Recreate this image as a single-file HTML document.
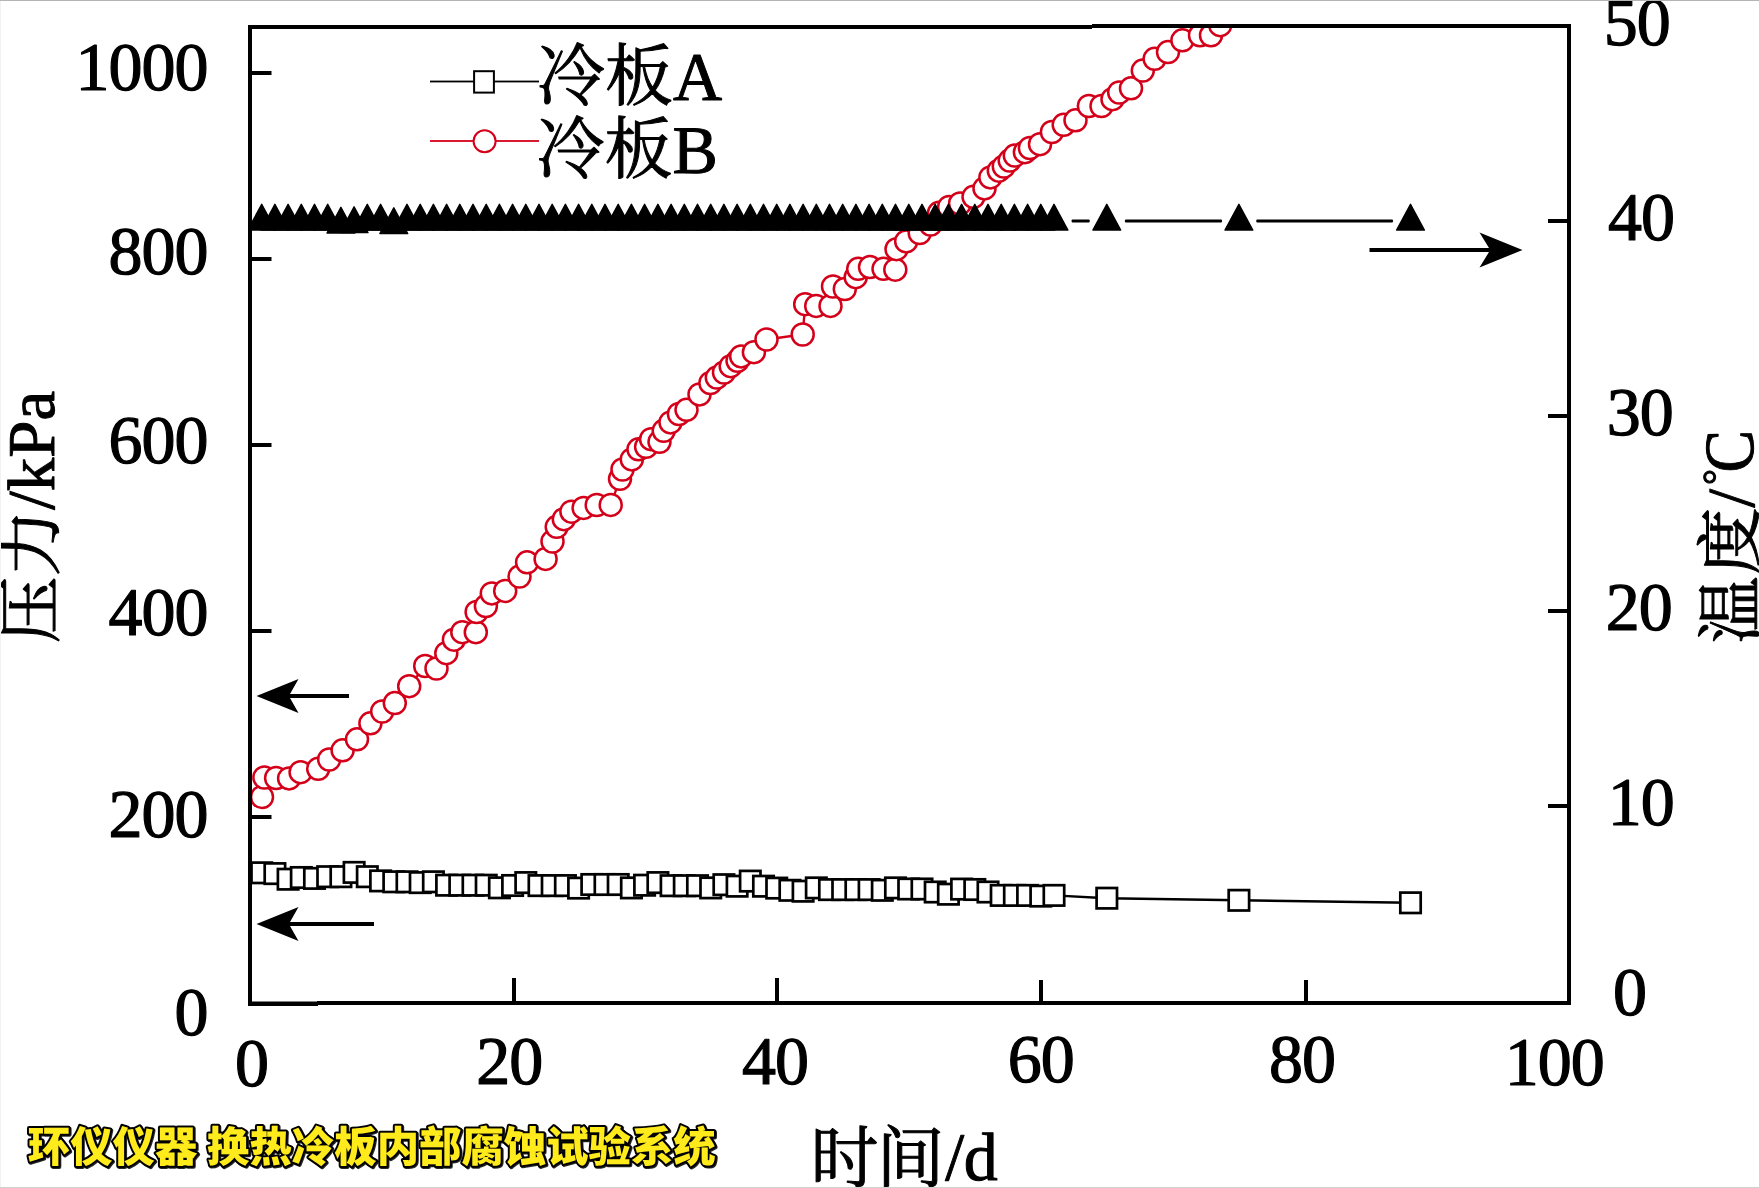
<!DOCTYPE html>
<html lang="zh">
<head>
<meta charset="utf-8">
<title>冷板压力与温度随时间变化</title>
<style>
html,body{margin:0;padding:0;background:#fff;}
body{width:1759px;height:1188px;overflow:hidden;position:relative;}
svg{display:block;position:absolute;left:0;top:0;}
text{text-rendering:geometricPrecision;}
.num{font-family:"Liberation Serif","Noto Serif CJK SC",serif;font-size:68px;fill:#000;}
.ttl{font-family:"Liberation Serif","Noto Serif CJK SC",serif;font-size:67px;fill:#000;}
.wm{font-family:"Noto Sans CJK SC","WenQuanYi Zen Hei","Liberation Sans",sans-serif;font-weight:900;font-size:42.4px;}
</style>
</head>
<body>
<svg width="1759" height="1188" viewBox="0 0 1759 1188">
<defs>
<clipPath id="plot"><rect x="250" y="27" width="1319" height="976"/></clipPath>
<filter id="sh" x="-2%" y="-20%" width="104%" height="140%"><feOffset in="SourceAlpha" dx="1.1" dy="1.1" result="o"/><feComponentTransfer in="o" result="s"><feFuncA type="linear" slope="0.85"/></feComponentTransfer><feMerge><feMergeNode in="s"/><feMergeNode in="SourceGraphic"/></feMerge></filter>
</defs>
<rect x="0" y="0" width="1759" height="1188" fill="#ffffff"/>

<g clip-path="url(#plot)">
<polyline points="262.0,797.0 264.4,777.5 276.1,778.0 289.1,778.4 300.6,772.2 318.2,768.8 329.2,759.5 342.6,750.3 357.0,739.3 370.4,723.3 382.2,711.5 394.8,703.1 409.2,686.2 425.2,666.0 436.5,668.5 446.3,653.2 453.9,639.7 462.3,632.2 475.8,632.2 476.6,612.0 485.9,606.1 491.8,593.4 505.2,590.9 519.5,576.6 527.1,562.3 545.6,558.9 552.5,541.5 556.7,526.8 563.8,519.2 571.4,511.7 583.6,507.9 596.7,505.0 610.7,504.9 620.0,478.8 622.5,469.5 631.8,459.4 638.5,449.3 646.1,446.8 651.1,439.2 659.5,441.8 663.7,430.8 670.5,422.4 678.9,414.0 686.5,409.8 699.5,394.4 710.4,383.0 716.8,377.6 724.0,372.5 730.7,366.2 737.5,360.8 741.2,356.4 753.9,352.2 766.5,339.5 802.7,334.5 805.2,304.2 816.2,305.9 830.5,305.9 833.0,286.5 844.8,289.0 855.7,277.2 858.2,268.8 870.0,267.1 883.5,268.8 895.3,269.7 896.5,249.2 906.2,241.4 919.7,233.0 930.6,224.6 939.0,212.8 949.1,206.9 960.1,203.5 973.5,196.8 984.5,188.4 990.4,177.4 998.8,170.7 1003.8,166.5 1009.7,160.6 1014.8,155.6 1024.9,152.2 1029.9,148.0 1040.0,144.2 1051.9,132.0 1063.7,124.8 1075.5,120.3 1088.9,106.0 1101.5,106.0 1112.5,99.2 1119.2,92.5 1131.0,88.3 1142.8,70.6 1154.6,58.8 1168.0,52.1 1182.4,40.3 1200.0,35.3 1211.0,35.3 1220.2,25.2" fill="none" stroke="#d4001a" stroke-width="2.4"/>
<circle cx="262.0" cy="797.0" r="11" fill="#fff" stroke="#d4001a" stroke-width="2.5"/>
<circle cx="264.4" cy="777.5" r="11" fill="#fff" stroke="#d4001a" stroke-width="2.5"/>
<circle cx="276.1" cy="778.0" r="11" fill="#fff" stroke="#d4001a" stroke-width="2.5"/>
<circle cx="289.1" cy="778.4" r="11" fill="#fff" stroke="#d4001a" stroke-width="2.5"/>
<circle cx="300.6" cy="772.2" r="11" fill="#fff" stroke="#d4001a" stroke-width="2.5"/>
<circle cx="318.2" cy="768.8" r="11" fill="#fff" stroke="#d4001a" stroke-width="2.5"/>
<circle cx="329.2" cy="759.5" r="11" fill="#fff" stroke="#d4001a" stroke-width="2.5"/>
<circle cx="342.6" cy="750.3" r="11" fill="#fff" stroke="#d4001a" stroke-width="2.5"/>
<circle cx="357.0" cy="739.3" r="11" fill="#fff" stroke="#d4001a" stroke-width="2.5"/>
<circle cx="370.4" cy="723.3" r="11" fill="#fff" stroke="#d4001a" stroke-width="2.5"/>
<circle cx="382.2" cy="711.5" r="11" fill="#fff" stroke="#d4001a" stroke-width="2.5"/>
<circle cx="394.8" cy="703.1" r="11" fill="#fff" stroke="#d4001a" stroke-width="2.5"/>
<circle cx="409.2" cy="686.2" r="11" fill="#fff" stroke="#d4001a" stroke-width="2.5"/>
<circle cx="425.2" cy="666.0" r="11" fill="#fff" stroke="#d4001a" stroke-width="2.5"/>
<circle cx="436.5" cy="668.5" r="11" fill="#fff" stroke="#d4001a" stroke-width="2.5"/>
<circle cx="446.3" cy="653.2" r="11" fill="#fff" stroke="#d4001a" stroke-width="2.5"/>
<circle cx="453.9" cy="639.7" r="11" fill="#fff" stroke="#d4001a" stroke-width="2.5"/>
<circle cx="462.3" cy="632.2" r="11" fill="#fff" stroke="#d4001a" stroke-width="2.5"/>
<circle cx="475.8" cy="632.2" r="11" fill="#fff" stroke="#d4001a" stroke-width="2.5"/>
<circle cx="476.6" cy="612.0" r="11" fill="#fff" stroke="#d4001a" stroke-width="2.5"/>
<circle cx="485.9" cy="606.1" r="11" fill="#fff" stroke="#d4001a" stroke-width="2.5"/>
<circle cx="491.8" cy="593.4" r="11" fill="#fff" stroke="#d4001a" stroke-width="2.5"/>
<circle cx="505.2" cy="590.9" r="11" fill="#fff" stroke="#d4001a" stroke-width="2.5"/>
<circle cx="519.5" cy="576.6" r="11" fill="#fff" stroke="#d4001a" stroke-width="2.5"/>
<circle cx="527.1" cy="562.3" r="11" fill="#fff" stroke="#d4001a" stroke-width="2.5"/>
<circle cx="545.6" cy="558.9" r="11" fill="#fff" stroke="#d4001a" stroke-width="2.5"/>
<circle cx="552.5" cy="541.5" r="11" fill="#fff" stroke="#d4001a" stroke-width="2.5"/>
<circle cx="556.7" cy="526.8" r="11" fill="#fff" stroke="#d4001a" stroke-width="2.5"/>
<circle cx="563.8" cy="519.2" r="11" fill="#fff" stroke="#d4001a" stroke-width="2.5"/>
<circle cx="571.4" cy="511.7" r="11" fill="#fff" stroke="#d4001a" stroke-width="2.5"/>
<circle cx="583.6" cy="507.9" r="11" fill="#fff" stroke="#d4001a" stroke-width="2.5"/>
<circle cx="596.7" cy="505.0" r="11" fill="#fff" stroke="#d4001a" stroke-width="2.5"/>
<circle cx="610.7" cy="504.9" r="11" fill="#fff" stroke="#d4001a" stroke-width="2.5"/>
<circle cx="620.0" cy="478.8" r="11" fill="#fff" stroke="#d4001a" stroke-width="2.5"/>
<circle cx="622.5" cy="469.5" r="11" fill="#fff" stroke="#d4001a" stroke-width="2.5"/>
<circle cx="631.8" cy="459.4" r="11" fill="#fff" stroke="#d4001a" stroke-width="2.5"/>
<circle cx="638.5" cy="449.3" r="11" fill="#fff" stroke="#d4001a" stroke-width="2.5"/>
<circle cx="646.1" cy="446.8" r="11" fill="#fff" stroke="#d4001a" stroke-width="2.5"/>
<circle cx="651.1" cy="439.2" r="11" fill="#fff" stroke="#d4001a" stroke-width="2.5"/>
<circle cx="659.5" cy="441.8" r="11" fill="#fff" stroke="#d4001a" stroke-width="2.5"/>
<circle cx="663.7" cy="430.8" r="11" fill="#fff" stroke="#d4001a" stroke-width="2.5"/>
<circle cx="670.5" cy="422.4" r="11" fill="#fff" stroke="#d4001a" stroke-width="2.5"/>
<circle cx="678.9" cy="414.0" r="11" fill="#fff" stroke="#d4001a" stroke-width="2.5"/>
<circle cx="686.5" cy="409.8" r="11" fill="#fff" stroke="#d4001a" stroke-width="2.5"/>
<circle cx="699.5" cy="394.4" r="11" fill="#fff" stroke="#d4001a" stroke-width="2.5"/>
<circle cx="710.4" cy="383.0" r="11" fill="#fff" stroke="#d4001a" stroke-width="2.5"/>
<circle cx="716.8" cy="377.6" r="11" fill="#fff" stroke="#d4001a" stroke-width="2.5"/>
<circle cx="724.0" cy="372.5" r="11" fill="#fff" stroke="#d4001a" stroke-width="2.5"/>
<circle cx="730.7" cy="366.2" r="11" fill="#fff" stroke="#d4001a" stroke-width="2.5"/>
<circle cx="737.5" cy="360.8" r="11" fill="#fff" stroke="#d4001a" stroke-width="2.5"/>
<circle cx="741.2" cy="356.4" r="11" fill="#fff" stroke="#d4001a" stroke-width="2.5"/>
<circle cx="753.9" cy="352.2" r="11" fill="#fff" stroke="#d4001a" stroke-width="2.5"/>
<circle cx="766.5" cy="339.5" r="11" fill="#fff" stroke="#d4001a" stroke-width="2.5"/>
<circle cx="802.7" cy="334.5" r="11" fill="#fff" stroke="#d4001a" stroke-width="2.5"/>
<circle cx="805.2" cy="304.2" r="11" fill="#fff" stroke="#d4001a" stroke-width="2.5"/>
<circle cx="816.2" cy="305.9" r="11" fill="#fff" stroke="#d4001a" stroke-width="2.5"/>
<circle cx="830.5" cy="305.9" r="11" fill="#fff" stroke="#d4001a" stroke-width="2.5"/>
<circle cx="833.0" cy="286.5" r="11" fill="#fff" stroke="#d4001a" stroke-width="2.5"/>
<circle cx="844.8" cy="289.0" r="11" fill="#fff" stroke="#d4001a" stroke-width="2.5"/>
<circle cx="855.7" cy="277.2" r="11" fill="#fff" stroke="#d4001a" stroke-width="2.5"/>
<circle cx="858.2" cy="268.8" r="11" fill="#fff" stroke="#d4001a" stroke-width="2.5"/>
<circle cx="870.0" cy="267.1" r="11" fill="#fff" stroke="#d4001a" stroke-width="2.5"/>
<circle cx="883.5" cy="268.8" r="11" fill="#fff" stroke="#d4001a" stroke-width="2.5"/>
<circle cx="895.3" cy="269.7" r="11" fill="#fff" stroke="#d4001a" stroke-width="2.5"/>
<circle cx="896.5" cy="249.2" r="11" fill="#fff" stroke="#d4001a" stroke-width="2.5"/>
<circle cx="906.2" cy="241.4" r="11" fill="#fff" stroke="#d4001a" stroke-width="2.5"/>
<circle cx="919.7" cy="233.0" r="11" fill="#fff" stroke="#d4001a" stroke-width="2.5"/>
<circle cx="930.6" cy="224.6" r="11" fill="#fff" stroke="#d4001a" stroke-width="2.5"/>
<circle cx="939.0" cy="212.8" r="11" fill="#fff" stroke="#d4001a" stroke-width="2.5"/>
<circle cx="949.1" cy="206.9" r="11" fill="#fff" stroke="#d4001a" stroke-width="2.5"/>
<circle cx="960.1" cy="203.5" r="11" fill="#fff" stroke="#d4001a" stroke-width="2.5"/>
<circle cx="973.5" cy="196.8" r="11" fill="#fff" stroke="#d4001a" stroke-width="2.5"/>
<circle cx="984.5" cy="188.4" r="11" fill="#fff" stroke="#d4001a" stroke-width="2.5"/>
<circle cx="990.4" cy="177.4" r="11" fill="#fff" stroke="#d4001a" stroke-width="2.5"/>
<circle cx="998.8" cy="170.7" r="11" fill="#fff" stroke="#d4001a" stroke-width="2.5"/>
<circle cx="1003.8" cy="166.5" r="11" fill="#fff" stroke="#d4001a" stroke-width="2.5"/>
<circle cx="1009.7" cy="160.6" r="11" fill="#fff" stroke="#d4001a" stroke-width="2.5"/>
<circle cx="1014.8" cy="155.6" r="11" fill="#fff" stroke="#d4001a" stroke-width="2.5"/>
<circle cx="1024.9" cy="152.2" r="11" fill="#fff" stroke="#d4001a" stroke-width="2.5"/>
<circle cx="1029.9" cy="148.0" r="11" fill="#fff" stroke="#d4001a" stroke-width="2.5"/>
<circle cx="1040.0" cy="144.2" r="11" fill="#fff" stroke="#d4001a" stroke-width="2.5"/>
<circle cx="1051.9" cy="132.0" r="11" fill="#fff" stroke="#d4001a" stroke-width="2.5"/>
<circle cx="1063.7" cy="124.8" r="11" fill="#fff" stroke="#d4001a" stroke-width="2.5"/>
<circle cx="1075.5" cy="120.3" r="11" fill="#fff" stroke="#d4001a" stroke-width="2.5"/>
<circle cx="1088.9" cy="106.0" r="11" fill="#fff" stroke="#d4001a" stroke-width="2.5"/>
<circle cx="1101.5" cy="106.0" r="11" fill="#fff" stroke="#d4001a" stroke-width="2.5"/>
<circle cx="1112.5" cy="99.2" r="11" fill="#fff" stroke="#d4001a" stroke-width="2.5"/>
<circle cx="1119.2" cy="92.5" r="11" fill="#fff" stroke="#d4001a" stroke-width="2.5"/>
<circle cx="1131.0" cy="88.3" r="11" fill="#fff" stroke="#d4001a" stroke-width="2.5"/>
<circle cx="1142.8" cy="70.6" r="11" fill="#fff" stroke="#d4001a" stroke-width="2.5"/>
<circle cx="1154.6" cy="58.8" r="11" fill="#fff" stroke="#d4001a" stroke-width="2.5"/>
<circle cx="1168.0" cy="52.1" r="11" fill="#fff" stroke="#d4001a" stroke-width="2.5"/>
<circle cx="1182.4" cy="40.3" r="11" fill="#fff" stroke="#d4001a" stroke-width="2.5"/>
<circle cx="1200.0" cy="35.3" r="11" fill="#fff" stroke="#d4001a" stroke-width="2.5"/>
<circle cx="1211.0" cy="35.3" r="11" fill="#fff" stroke="#d4001a" stroke-width="2.5"/>
<circle cx="1220.2" cy="25.2" r="11" fill="#fff" stroke="#d4001a" stroke-width="2.5"/>
<polyline points="261.7,872.8 274.9,873.6 288.1,879.2 301.3,877.5 314.5,878.4 327.7,876.7 340.9,876.7 354.1,872.4 367.3,876.7 380.6,880.9 393.8,881.8 407.0,881.8 420.2,882.6 433.4,881.8 446.6,885.2 459.8,885.2 473.0,885.2 486.2,885.2 499.4,887.8 512.6,885.5 525.8,882.6 539.0,885.6 552.2,885.6 565.4,885.6 578.6,888.1 591.8,884.5 605.0,884.5 618.2,884.5 631.4,887.9 644.6,885.2 657.9,882.6 671.1,885.7 684.3,885.7 697.5,885.7 710.7,887.9 723.9,884.7 737.1,886.2 750.3,881.1 763.5,886.2 776.7,888.1 789.9,890.3 803.1,891.2 816.3,887.9 829.5,889.6 842.7,889.6 855.9,889.6 869.1,889.6 882.3,890.3 895.5,887.9 908.8,889.0 922.0,889.0 935.2,892.0 948.4,894.2 961.6,889.1 974.8,889.5 988.0,892.0 1001.2,895.4 1014.4,895.4 1027.6,895.4 1040.8,896.1 1054.0,895.4 1106.8,898.2 1238.9,900.3 1410.5,902.8" fill="none" stroke="#000" stroke-width="2.4"/>
<rect x="251.5" y="862.6" width="20.4" height="20.4" fill="#fff" stroke="#000" stroke-width="2.7"/>
<rect x="264.7" y="863.4" width="20.4" height="20.4" fill="#fff" stroke="#000" stroke-width="2.7"/>
<rect x="277.9" y="869.0" width="20.4" height="20.4" fill="#fff" stroke="#000" stroke-width="2.7"/>
<rect x="291.1" y="867.3" width="20.4" height="20.4" fill="#fff" stroke="#000" stroke-width="2.7"/>
<rect x="304.3" y="868.2" width="20.4" height="20.4" fill="#fff" stroke="#000" stroke-width="2.7"/>
<rect x="317.5" y="866.5" width="20.4" height="20.4" fill="#fff" stroke="#000" stroke-width="2.7"/>
<rect x="330.7" y="866.5" width="20.4" height="20.4" fill="#fff" stroke="#000" stroke-width="2.7"/>
<rect x="343.9" y="862.2" width="20.4" height="20.4" fill="#fff" stroke="#000" stroke-width="2.7"/>
<rect x="357.1" y="866.5" width="20.4" height="20.4" fill="#fff" stroke="#000" stroke-width="2.7"/>
<rect x="370.4" y="870.7" width="20.4" height="20.4" fill="#fff" stroke="#000" stroke-width="2.7"/>
<rect x="383.6" y="871.6" width="20.4" height="20.4" fill="#fff" stroke="#000" stroke-width="2.7"/>
<rect x="396.8" y="871.6" width="20.4" height="20.4" fill="#fff" stroke="#000" stroke-width="2.7"/>
<rect x="410.0" y="872.4" width="20.4" height="20.4" fill="#fff" stroke="#000" stroke-width="2.7"/>
<rect x="423.2" y="871.6" width="20.4" height="20.4" fill="#fff" stroke="#000" stroke-width="2.7"/>
<rect x="436.4" y="875.0" width="20.4" height="20.4" fill="#fff" stroke="#000" stroke-width="2.7"/>
<rect x="449.6" y="875.0" width="20.4" height="20.4" fill="#fff" stroke="#000" stroke-width="2.7"/>
<rect x="462.8" y="875.0" width="20.4" height="20.4" fill="#fff" stroke="#000" stroke-width="2.7"/>
<rect x="476.0" y="875.0" width="20.4" height="20.4" fill="#fff" stroke="#000" stroke-width="2.7"/>
<rect x="489.2" y="877.6" width="20.4" height="20.4" fill="#fff" stroke="#000" stroke-width="2.7"/>
<rect x="502.4" y="875.3" width="20.4" height="20.4" fill="#fff" stroke="#000" stroke-width="2.7"/>
<rect x="515.6" y="872.4" width="20.4" height="20.4" fill="#fff" stroke="#000" stroke-width="2.7"/>
<rect x="528.8" y="875.4" width="20.4" height="20.4" fill="#fff" stroke="#000" stroke-width="2.7"/>
<rect x="542.0" y="875.4" width="20.4" height="20.4" fill="#fff" stroke="#000" stroke-width="2.7"/>
<rect x="555.2" y="875.4" width="20.4" height="20.4" fill="#fff" stroke="#000" stroke-width="2.7"/>
<rect x="568.4" y="877.9" width="20.4" height="20.4" fill="#fff" stroke="#000" stroke-width="2.7"/>
<rect x="581.6" y="874.3" width="20.4" height="20.4" fill="#fff" stroke="#000" stroke-width="2.7"/>
<rect x="594.8" y="874.3" width="20.4" height="20.4" fill="#fff" stroke="#000" stroke-width="2.7"/>
<rect x="608.0" y="874.3" width="20.4" height="20.4" fill="#fff" stroke="#000" stroke-width="2.7"/>
<rect x="621.2" y="877.7" width="20.4" height="20.4" fill="#fff" stroke="#000" stroke-width="2.7"/>
<rect x="634.4" y="875.0" width="20.4" height="20.4" fill="#fff" stroke="#000" stroke-width="2.7"/>
<rect x="647.7" y="872.4" width="20.4" height="20.4" fill="#fff" stroke="#000" stroke-width="2.7"/>
<rect x="660.9" y="875.5" width="20.4" height="20.4" fill="#fff" stroke="#000" stroke-width="2.7"/>
<rect x="674.1" y="875.5" width="20.4" height="20.4" fill="#fff" stroke="#000" stroke-width="2.7"/>
<rect x="687.3" y="875.5" width="20.4" height="20.4" fill="#fff" stroke="#000" stroke-width="2.7"/>
<rect x="700.5" y="877.7" width="20.4" height="20.4" fill="#fff" stroke="#000" stroke-width="2.7"/>
<rect x="713.7" y="874.5" width="20.4" height="20.4" fill="#fff" stroke="#000" stroke-width="2.7"/>
<rect x="726.9" y="876.0" width="20.4" height="20.4" fill="#fff" stroke="#000" stroke-width="2.7"/>
<rect x="740.1" y="870.9" width="20.4" height="20.4" fill="#fff" stroke="#000" stroke-width="2.7"/>
<rect x="753.3" y="876.0" width="20.4" height="20.4" fill="#fff" stroke="#000" stroke-width="2.7"/>
<rect x="766.5" y="877.9" width="20.4" height="20.4" fill="#fff" stroke="#000" stroke-width="2.7"/>
<rect x="779.7" y="880.1" width="20.4" height="20.4" fill="#fff" stroke="#000" stroke-width="2.7"/>
<rect x="792.9" y="881.0" width="20.4" height="20.4" fill="#fff" stroke="#000" stroke-width="2.7"/>
<rect x="806.1" y="877.7" width="20.4" height="20.4" fill="#fff" stroke="#000" stroke-width="2.7"/>
<rect x="819.3" y="879.4" width="20.4" height="20.4" fill="#fff" stroke="#000" stroke-width="2.7"/>
<rect x="832.5" y="879.4" width="20.4" height="20.4" fill="#fff" stroke="#000" stroke-width="2.7"/>
<rect x="845.7" y="879.4" width="20.4" height="20.4" fill="#fff" stroke="#000" stroke-width="2.7"/>
<rect x="858.9" y="879.4" width="20.4" height="20.4" fill="#fff" stroke="#000" stroke-width="2.7"/>
<rect x="872.1" y="880.1" width="20.4" height="20.4" fill="#fff" stroke="#000" stroke-width="2.7"/>
<rect x="885.3" y="877.7" width="20.4" height="20.4" fill="#fff" stroke="#000" stroke-width="2.7"/>
<rect x="898.5" y="878.8" width="20.4" height="20.4" fill="#fff" stroke="#000" stroke-width="2.7"/>
<rect x="911.8" y="878.8" width="20.4" height="20.4" fill="#fff" stroke="#000" stroke-width="2.7"/>
<rect x="925.0" y="881.8" width="20.4" height="20.4" fill="#fff" stroke="#000" stroke-width="2.7"/>
<rect x="938.2" y="884.0" width="20.4" height="20.4" fill="#fff" stroke="#000" stroke-width="2.7"/>
<rect x="951.4" y="878.9" width="20.4" height="20.4" fill="#fff" stroke="#000" stroke-width="2.7"/>
<rect x="964.6" y="879.3" width="20.4" height="20.4" fill="#fff" stroke="#000" stroke-width="2.7"/>
<rect x="977.8" y="881.8" width="20.4" height="20.4" fill="#fff" stroke="#000" stroke-width="2.7"/>
<rect x="991.0" y="885.2" width="20.4" height="20.4" fill="#fff" stroke="#000" stroke-width="2.7"/>
<rect x="1004.2" y="885.2" width="20.4" height="20.4" fill="#fff" stroke="#000" stroke-width="2.7"/>
<rect x="1017.4" y="885.2" width="20.4" height="20.4" fill="#fff" stroke="#000" stroke-width="2.7"/>
<rect x="1030.6" y="885.9" width="20.4" height="20.4" fill="#fff" stroke="#000" stroke-width="2.7"/>
<rect x="1043.8" y="885.2" width="20.4" height="20.4" fill="#fff" stroke="#000" stroke-width="2.7"/>
<rect x="1096.6" y="888.0" width="20.4" height="20.4" fill="#fff" stroke="#000" stroke-width="2.7"/>
<rect x="1228.7" y="890.1" width="20.4" height="20.4" fill="#fff" stroke="#000" stroke-width="2.7"/>
<rect x="1400.3" y="892.6" width="20.4" height="20.4" fill="#fff" stroke="#000" stroke-width="2.7"/>
<rect x="1071.6" y="219.6" width="18.1" height="3" rx="1" fill="#000"/>
<rect x="1124.9" y="219.6" width="97.1" height="3" rx="1" fill="#000"/>
<rect x="1256.3" y="219.6" width="136.7" height="3" rx="1" fill="#000"/>
<path d="M261.7 204.3 L275.6 230.1 L247.8 230.1 Z" fill="#000" stroke="#000" stroke-width="1.4" stroke-linejoin="round"/>
<path d="M274.9 204.3 L288.8 230.1 L261.0 230.1 Z" fill="#000" stroke="#000" stroke-width="1.4" stroke-linejoin="round"/>
<path d="M288.1 204.3 L302.0 230.1 L274.2 230.1 Z" fill="#000" stroke="#000" stroke-width="1.4" stroke-linejoin="round"/>
<path d="M301.3 204.3 L315.2 230.1 L287.4 230.1 Z" fill="#000" stroke="#000" stroke-width="1.4" stroke-linejoin="round"/>
<path d="M314.5 204.3 L328.4 230.1 L300.6 230.1 Z" fill="#000" stroke="#000" stroke-width="1.4" stroke-linejoin="round"/>
<path d="M327.7 204.3 L341.6 230.1 L313.8 230.1 Z" fill="#000" stroke="#000" stroke-width="1.4" stroke-linejoin="round"/>
<path d="M340.9 207.3 L354.8 233.1 L327.0 233.1 Z" fill="#000" stroke="#000" stroke-width="1.4" stroke-linejoin="round"/>
<path d="M354.1 206.8 L368.0 232.6 L340.2 232.6 Z" fill="#000" stroke="#000" stroke-width="1.4" stroke-linejoin="round"/>
<path d="M367.3 204.3 L381.2 230.1 L353.4 230.1 Z" fill="#000" stroke="#000" stroke-width="1.4" stroke-linejoin="round"/>
<path d="M380.6 204.3 L394.4 230.1 L366.7 230.1 Z" fill="#000" stroke="#000" stroke-width="1.4" stroke-linejoin="round"/>
<path d="M393.8 207.8 L407.7 233.6 L379.9 233.6 Z" fill="#000" stroke="#000" stroke-width="1.4" stroke-linejoin="round"/>
<path d="M407.0 204.3 L420.9 230.1 L393.1 230.1 Z" fill="#000" stroke="#000" stroke-width="1.4" stroke-linejoin="round"/>
<path d="M420.2 204.3 L434.1 230.1 L406.3 230.1 Z" fill="#000" stroke="#000" stroke-width="1.4" stroke-linejoin="round"/>
<path d="M433.4 204.3 L447.3 230.1 L419.5 230.1 Z" fill="#000" stroke="#000" stroke-width="1.4" stroke-linejoin="round"/>
<path d="M446.6 204.3 L460.5 230.1 L432.7 230.1 Z" fill="#000" stroke="#000" stroke-width="1.4" stroke-linejoin="round"/>
<path d="M459.8 204.3 L473.7 230.1 L445.9 230.1 Z" fill="#000" stroke="#000" stroke-width="1.4" stroke-linejoin="round"/>
<path d="M473.0 204.3 L486.9 230.1 L459.1 230.1 Z" fill="#000" stroke="#000" stroke-width="1.4" stroke-linejoin="round"/>
<path d="M486.2 204.3 L500.1 230.1 L472.3 230.1 Z" fill="#000" stroke="#000" stroke-width="1.4" stroke-linejoin="round"/>
<path d="M499.4 204.3 L513.3 230.1 L485.5 230.1 Z" fill="#000" stroke="#000" stroke-width="1.4" stroke-linejoin="round"/>
<path d="M512.6 204.3 L526.5 230.1 L498.7 230.1 Z" fill="#000" stroke="#000" stroke-width="1.4" stroke-linejoin="round"/>
<path d="M525.8 204.3 L539.7 230.1 L511.9 230.1 Z" fill="#000" stroke="#000" stroke-width="1.4" stroke-linejoin="round"/>
<path d="M539.0 204.3 L552.9 230.1 L525.1 230.1 Z" fill="#000" stroke="#000" stroke-width="1.4" stroke-linejoin="round"/>
<path d="M552.2 204.3 L566.1 230.1 L538.3 230.1 Z" fill="#000" stroke="#000" stroke-width="1.4" stroke-linejoin="round"/>
<path d="M565.4 204.3 L579.3 230.1 L551.5 230.1 Z" fill="#000" stroke="#000" stroke-width="1.4" stroke-linejoin="round"/>
<path d="M578.6 204.3 L592.5 230.1 L564.7 230.1 Z" fill="#000" stroke="#000" stroke-width="1.4" stroke-linejoin="round"/>
<path d="M591.8 204.3 L605.7 230.1 L577.9 230.1 Z" fill="#000" stroke="#000" stroke-width="1.4" stroke-linejoin="round"/>
<path d="M605.0 204.3 L618.9 230.1 L591.1 230.1 Z" fill="#000" stroke="#000" stroke-width="1.4" stroke-linejoin="round"/>
<path d="M618.2 204.3 L632.1 230.1 L604.3 230.1 Z" fill="#000" stroke="#000" stroke-width="1.4" stroke-linejoin="round"/>
<path d="M631.4 204.3 L645.3 230.1 L617.5 230.1 Z" fill="#000" stroke="#000" stroke-width="1.4" stroke-linejoin="round"/>
<path d="M644.6 204.3 L658.5 230.1 L630.8 230.1 Z" fill="#000" stroke="#000" stroke-width="1.4" stroke-linejoin="round"/>
<path d="M657.9 204.3 L671.8 230.1 L644.0 230.1 Z" fill="#000" stroke="#000" stroke-width="1.4" stroke-linejoin="round"/>
<path d="M671.1 204.3 L685.0 230.1 L657.2 230.1 Z" fill="#000" stroke="#000" stroke-width="1.4" stroke-linejoin="round"/>
<path d="M684.3 204.3 L698.2 230.1 L670.4 230.1 Z" fill="#000" stroke="#000" stroke-width="1.4" stroke-linejoin="round"/>
<path d="M697.5 204.3 L711.4 230.1 L683.6 230.1 Z" fill="#000" stroke="#000" stroke-width="1.4" stroke-linejoin="round"/>
<path d="M710.7 204.3 L724.6 230.1 L696.8 230.1 Z" fill="#000" stroke="#000" stroke-width="1.4" stroke-linejoin="round"/>
<path d="M723.9 204.3 L737.8 230.1 L710.0 230.1 Z" fill="#000" stroke="#000" stroke-width="1.4" stroke-linejoin="round"/>
<path d="M737.1 204.3 L751.0 230.1 L723.2 230.1 Z" fill="#000" stroke="#000" stroke-width="1.4" stroke-linejoin="round"/>
<path d="M750.3 204.3 L764.2 230.1 L736.4 230.1 Z" fill="#000" stroke="#000" stroke-width="1.4" stroke-linejoin="round"/>
<path d="M763.5 204.3 L777.4 230.1 L749.6 230.1 Z" fill="#000" stroke="#000" stroke-width="1.4" stroke-linejoin="round"/>
<path d="M776.7 204.3 L790.6 230.1 L762.8 230.1 Z" fill="#000" stroke="#000" stroke-width="1.4" stroke-linejoin="round"/>
<path d="M789.9 204.3 L803.8 230.1 L776.0 230.1 Z" fill="#000" stroke="#000" stroke-width="1.4" stroke-linejoin="round"/>
<path d="M803.1 204.3 L817.0 230.1 L789.2 230.1 Z" fill="#000" stroke="#000" stroke-width="1.4" stroke-linejoin="round"/>
<path d="M816.3 204.3 L830.2 230.1 L802.4 230.1 Z" fill="#000" stroke="#000" stroke-width="1.4" stroke-linejoin="round"/>
<path d="M829.5 204.3 L843.4 230.1 L815.6 230.1 Z" fill="#000" stroke="#000" stroke-width="1.4" stroke-linejoin="round"/>
<path d="M842.7 204.3 L856.6 230.1 L828.8 230.1 Z" fill="#000" stroke="#000" stroke-width="1.4" stroke-linejoin="round"/>
<path d="M855.9 204.3 L869.8 230.1 L842.0 230.1 Z" fill="#000" stroke="#000" stroke-width="1.4" stroke-linejoin="round"/>
<path d="M869.1 204.3 L883.0 230.1 L855.2 230.1 Z" fill="#000" stroke="#000" stroke-width="1.4" stroke-linejoin="round"/>
<path d="M882.3 204.3 L896.2 230.1 L868.4 230.1 Z" fill="#000" stroke="#000" stroke-width="1.4" stroke-linejoin="round"/>
<path d="M895.5 204.3 L909.4 230.1 L881.6 230.1 Z" fill="#000" stroke="#000" stroke-width="1.4" stroke-linejoin="round"/>
<path d="M908.8 204.3 L922.6 230.1 L894.9 230.1 Z" fill="#000" stroke="#000" stroke-width="1.4" stroke-linejoin="round"/>
<path d="M922.0 204.3 L935.9 230.1 L908.1 230.1 Z" fill="#000" stroke="#000" stroke-width="1.4" stroke-linejoin="round"/>
<path d="M935.2 204.3 L949.1 230.1 L921.3 230.1 Z" fill="#000" stroke="#000" stroke-width="1.4" stroke-linejoin="round"/>
<path d="M948.4 204.3 L962.3 230.1 L934.5 230.1 Z" fill="#000" stroke="#000" stroke-width="1.4" stroke-linejoin="round"/>
<path d="M961.6 204.3 L975.5 230.1 L947.7 230.1 Z" fill="#000" stroke="#000" stroke-width="1.4" stroke-linejoin="round"/>
<path d="M974.8 204.3 L988.7 230.1 L960.9 230.1 Z" fill="#000" stroke="#000" stroke-width="1.4" stroke-linejoin="round"/>
<path d="M988.0 204.3 L1001.9 230.1 L974.1 230.1 Z" fill="#000" stroke="#000" stroke-width="1.4" stroke-linejoin="round"/>
<path d="M1001.2 204.3 L1015.1 230.1 L987.3 230.1 Z" fill="#000" stroke="#000" stroke-width="1.4" stroke-linejoin="round"/>
<path d="M1014.4 204.3 L1028.3 230.1 L1000.5 230.1 Z" fill="#000" stroke="#000" stroke-width="1.4" stroke-linejoin="round"/>
<path d="M1027.6 204.3 L1041.5 230.1 L1013.7 230.1 Z" fill="#000" stroke="#000" stroke-width="1.4" stroke-linejoin="round"/>
<path d="M1040.8 204.3 L1054.7 230.1 L1026.9 230.1 Z" fill="#000" stroke="#000" stroke-width="1.4" stroke-linejoin="round"/>
<path d="M1054.0 204.3 L1067.9 230.1 L1040.1 230.1 Z" fill="#000" stroke="#000" stroke-width="1.4" stroke-linejoin="round"/>
<path d="M1106.8 204.3 L1120.7 230.1 L1092.9 230.1 Z" fill="#000" stroke="#000" stroke-width="1.4" stroke-linejoin="round"/>
<path d="M1238.9 204.3 L1252.8 230.1 L1225.0 230.1 Z" fill="#000" stroke="#000" stroke-width="1.4" stroke-linejoin="round"/>
<path d="M1410.5 204.3 L1424.4 230.1 L1396.6 230.1 Z" fill="#000" stroke="#000" stroke-width="1.4" stroke-linejoin="round"/>
</g>
<g fill="#000">
<rect x="248" y="25" width="4" height="981"/>
<rect x="1567" y="24" width="4" height="981"/>
<rect x="248" y="25" width="844" height="4"/>
<rect x="1092" y="24" width="479" height="4"/>
<rect x="248" y="1001.5" width="70" height="4.5"/>
<rect x="317" y="1001" width="1254" height="4"/>
<rect x="248" y="71" width="23.5" height="4"/>
<rect x="248" y="257" width="23.5" height="4"/>
<rect x="248" y="443" width="23.5" height="4"/>
<rect x="248" y="629" width="23.5" height="4"/>
<rect x="248" y="815" width="23.5" height="4"/>
<rect x="1548" y="219" width="20" height="4"/>
<rect x="1548" y="414" width="20" height="4"/>
<rect x="1548" y="609" width="20" height="4"/>
<rect x="1548" y="804" width="20" height="4"/>
<rect x="512" y="978" width="4" height="24"/>
<rect x="775" y="978" width="4" height="24"/>
<rect x="1039" y="980" width="4" height="22"/>
<rect x="1304" y="980" width="4" height="22"/>
</g>
<path d="M256.5 696 L298.5 679 L290.0 694 L349 694 L349 698 L290.0 698 L298.5 713 Z" fill="#000"/>
<path d="M256.5 924 L298.5 907 L290.0 922 L374 922 L374 926 L290.0 926 L298.5 941 Z" fill="#000"/>
<path d="M1522.5 250 L1479.5 232.5 L1489.0 248 L1369.5 248 L1369.5 252 L1489.0 252 L1479.5 267.5 Z" fill="#000"/>
<rect x="430" y="80.6" width="109" height="1.8" fill="#000"/>
<rect x="474.1" y="71.2" width="19.8" height="21.4" fill="#fff" stroke="#000" stroke-width="2"/>
<rect x="430" y="140.1" width="109" height="1.8" fill="#d4001a"/>
<circle cx="484.6" cy="141.2" r="11" fill="#fff" stroke="#d4001a" stroke-width="2"/>
<text class="ttl" transform="translate(537,99.5)" text-anchor="start" style="font-size:68px;letter-spacing:0px" stroke="#000" stroke-width="1.0" stroke-linejoin="round">冷板A</text>
<text class="ttl" transform="translate(536.5,172.5)" text-anchor="start" style="font-size:68px;letter-spacing:0px" stroke="#000" stroke-width="1.0" stroke-linejoin="round">冷板B</text>
<text class="num" transform="translate(207.5,90.45)" text-anchor="end" style="font-size:68px;letter-spacing:-1px" stroke="#000" stroke-width="1.2" stroke-linejoin="round">1000</text>
<text class="num" transform="translate(207.5,274.0)" text-anchor="end" style="font-size:68px;letter-spacing:-1px" stroke="#000" stroke-width="1.2" stroke-linejoin="round">800</text>
<text class="num" transform="translate(207.5,462.85)" text-anchor="end" style="font-size:68px;letter-spacing:-1px" stroke="#000" stroke-width="1.2" stroke-linejoin="round">600</text>
<text class="num" transform="translate(207.5,634.6)" text-anchor="end" style="font-size:68px;letter-spacing:-1px" stroke="#000" stroke-width="1.2" stroke-linejoin="round">400</text>
<text class="num" transform="translate(207.5,836.95)" text-anchor="end" style="font-size:68px;letter-spacing:-1px" stroke="#000" stroke-width="1.2" stroke-linejoin="round">200</text>
<text class="num" transform="translate(207.5,1034.7)" text-anchor="end" style="font-size:68px;letter-spacing:-1px" stroke="#000" stroke-width="1.2" stroke-linejoin="round">0</text>
<text class="num" transform="translate(251.5,1085.6)" text-anchor="middle" style="font-size:68px;letter-spacing:-1px" stroke="#000" stroke-width="1.2" stroke-linejoin="round">0</text>
<text class="num" transform="translate(509.3,1084.35)" text-anchor="middle" style="font-size:68px;letter-spacing:-1px" stroke="#000" stroke-width="1.2" stroke-linejoin="round">20</text>
<text class="num" transform="translate(774.9,1084.35)" text-anchor="middle" style="font-size:68px;letter-spacing:-1px" stroke="#000" stroke-width="1.2" stroke-linejoin="round">40</text>
<text class="num" transform="translate(1040.8,1082.3)" text-anchor="middle" style="font-size:68px;letter-spacing:-1px" stroke="#000" stroke-width="1.2" stroke-linejoin="round">60</text>
<text class="num" transform="translate(1302,1082.1)" text-anchor="middle" style="font-size:68px;letter-spacing:-1px" stroke="#000" stroke-width="1.2" stroke-linejoin="round">80</text>
<text class="num" transform="translate(1554.3,1084.7)" text-anchor="middle" style="font-size:68px;letter-spacing:-1px" stroke="#000" stroke-width="1.2" stroke-linejoin="round">100</text>
<text class="num" transform="translate(1603.7,45)" text-anchor="start" style="font-size:68px;letter-spacing:-1px" stroke="#000" stroke-width="1.2" stroke-linejoin="round">50</text>
<text class="num" transform="translate(1607.9,239.9)" text-anchor="start" style="font-size:68px;letter-spacing:-1px" stroke="#000" stroke-width="1.2" stroke-linejoin="round">40</text>
<text class="num" transform="translate(1606.8,435.1)" text-anchor="start" style="font-size:68px;letter-spacing:-1px" stroke="#000" stroke-width="1.2" stroke-linejoin="round">30</text>
<text class="num" transform="translate(1605.7,629.5)" text-anchor="start" style="font-size:68px;letter-spacing:-1px" stroke="#000" stroke-width="1.2" stroke-linejoin="round">20</text>
<text class="num" transform="translate(1607.7,824.5)" text-anchor="start" style="font-size:68px;letter-spacing:-1px" stroke="#000" stroke-width="1.2" stroke-linejoin="round">10</text>
<text class="num" transform="translate(1613,1015.2)" text-anchor="start" style="font-size:68px;letter-spacing:-1px" stroke="#000" stroke-width="1.2" stroke-linejoin="round">0</text>
<text class="ttl" transform="translate(54,643.3) rotate(-90)" text-anchor="start" style="font-size:66.8px;letter-spacing:0px" stroke="#000" stroke-width="1.0" stroke-linejoin="round">压力/kPa</text>
<text class="ttl" opacity="0.999" transform="translate(1754,643.5) rotate(-90)" stroke="#000" stroke-width="1" stroke-linejoin="round" style="font-size:67px"><tspan x="0" y="0">温</tspan><tspan x="69" y="0">度/</tspan><tspan x="158.5" y="-24" style="font-size:39.6px">°</tspan><tspan x="170.9" y="-1.5" style="font-size:70.5px" textLength="42.4" lengthAdjust="spacingAndGlyphs">C</tspan></text>
<text class="ttl" stroke="#000" stroke-width="1" stroke-linejoin="round" style="font-size:68px"><tspan x="810.5" y="1181.5">时</tspan><tspan x="876.5" y="1181.5">间</tspan><tspan x="945.3" y="1179.5">/</tspan><tspan x="963.8" y="1179.5">d</tspan></text>
<text class="wm" x="27.8" y="1161.6" fill="#ffea1c" stroke="#000" stroke-width="4" stroke-linejoin="round" paint-order="stroke" filter="url(#sh)">环仪仪器 换热冷板内部腐蚀试验系统</text>
<rect x="0" y="0" width="1" height="1188" fill="#f2f2f2"/>
<rect x="0" y="0" width="1759" height="1" fill="#b4b4b4"/>
<rect x="0" y="1187" width="1759" height="1" fill="#d0d0d0"/>
</svg>
</body>
</html>
